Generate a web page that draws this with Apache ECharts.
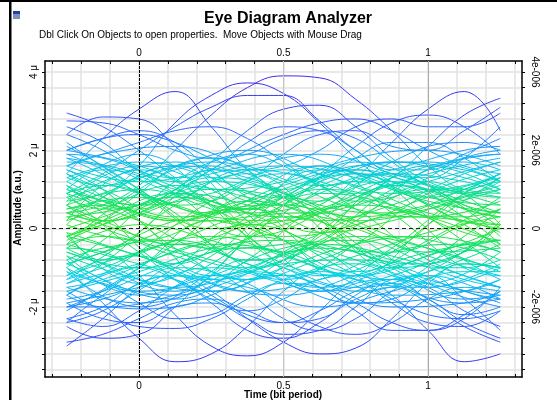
<!DOCTYPE html>
<html><head><meta charset="utf-8">
<script src="https://cdn.jsdelivr.net/npm/echarts@6/dist/echarts.min.js"></script>
<style>html,body{margin:0;padding:0;background:#fff}#c{width:557px;height:400px}</style>
</head><body><div id="c"></div>
<script>
// time grids (bit periods)
const timesFine = [-0.25,-0.125,0,0.125,0.25,0.375,0.5,0.625,0.75,0.875,1,1.125,1.25];
const timesA = [-0.25,0,0.25,0.5,0.75,1,1.25];
const timesB = [-0.25,-0.125,0.125,0.375,0.625,0.875,1.125,1.25];

// amplitude traces in micro a.u.
const outerTraces = [
  [0.4,0.6,1.1,2.0,2.9,3.6,3.9,3.85,3.3,2.5,1.6,1.0,0.9],
  [1.4,2.3,3.05,3.5,2.6,1.5,0.8,0.5,0.7,1.1,1.0,0.5,0.3],
  [0.4,0.8,1.6,2.7,3.4,3.72,3.45,2.7,1.8,1.1,0.8,1.0,1.4],
  [0.6,0.2,0.4,1.0,1.5,1.4,0.9,0.7,1.3,2.2,3.05,3.5,2.5],
  [1.2,0.8,0.6,1.0,1.7,2.5,3.05,3.15,2.6,1.8,1.2,1.0,1.3],
  [0.9,1.4,2.0,2.6,3.1,3.4,3.4,2.75,2.0,1.5,1.5,1.9,2.3],
  [-0.2,0.2,0.9,1.5,1.6,1.2,1.0,1.4,2.1,2.7,2.9,2.6,1.9],
  [2.4,2.85,2.8,2.1,1.3,0.7,0.6,0.9,1.3,1.4,1.1,0.6,0.4],
  [2.95,2.6,2.0,1.3,0.7,0.5,0.8,1.3,1.5,1.2,0.6,0.2,0.1],
  [2.75,2.7,2.4,2.0,1.8,1.9,2.3,2.5,2.3,1.7,1.1,0.9,1.2],
  [0.8,0.5,0.6,1.2,1.7,1.9,1.6,1.1,0.9,1.3,2.1,2.9,3.33],
  [1.9,1.5,0.9,0.6,0.7,1.2,1.9,2.4,2.5,2.1,2.0,2.5,3.1],
  [2.0,2.3,2.4,2.2,1.8,1.5,1.6,2.0,2.6,2.8,2.6,2.6,2.95],
  [1.1,0.6,0.5,0.9,1.5,2.0,2.4,2.7,2.8,2.5,2.0,1.6,1.4],
  [2.0,2.3,2.5,2.2,1.5,0.9,0.8,1.2,1.8,2.2,2.2,1.8,1.2],
  [1.6,1.9,2.2,2.5,2.6,2.3,1.7,1.1,0.7,0.8,1.3,1.8,2.0],
  [2.6,2.2,1.5,1.2,1.5,2.2,2.6,2.5,2.0,1.4,1.3,1.8,2.6],
  [-1.0,-1.9,-2.8,-3.4,-3.2,-2.5,-1.6,-1.0,-0.9,-1.2,-1.5,-1.3,-0.9],
  [-0.5,-0.6,-1.2,-2.2,-3.0,-3.25,-2.9,-2.1,-1.4,-1.3,-1.8,-2.2,-2.0],
  [-2.3,-2.0,-1.4,-1.2,-1.6,-2.3,-2.9,-3.2,-3.05,-2.3,-1.4,-0.9,-1.0],
  [-1.7,-1.2,-1.0,-1.3,-1.8,-2.1,-1.8,-1.3,-1.2,-1.7,-2.6,-3.4,-3.2],
  [-2.5,-2.8,-2.7,-2.0,-1.2,-0.8,-1.0,-1.5,-1.9,-1.8,-1.3,-0.9,-1.0],
  [-3.0,-2.3,-1.5,-1.0,-1.1,-1.6,-2.3,-2.6,-2.3,-1.6,-1.2,-1.4,-1.8],
  [-1.6,-2.1,-2.5,-2.55,-2.3,-1.8,-1.3,-1.1,-1.3,-1.9,-2.4,-2.5,-2.1],
  [-2.0,-2.0,-2.05,-2.0,-1.7,-1.3,-1.2,-1.5,-2.1,-2.6,-2.6,-2.2,-1.6],
  [-0.9,-1.3,-1.9,-2.3,-2.2,-1.7,-1.4,-1.5,-1.9,-2.4,-2.6,-2.3,-1.5],
  [-1.2,-0.8,-0.7,-1.1,-1.7,-2.2,-2.4,-2.1,-1.6,-1.4,-1.8,-2.4,-2.8],
  [-1.9,-2.3,-2.4,-2.0,-1.9,-2.3,-2.7,-2.6,-2.0,-1.3,-1.2,-1.8,-2.6],
  [-2.3,-2.5,-2.1,-1.5,-1.2,-1.4,-2.0,-2.5,-2.7,-2.4,-1.8,-1.5,-1.6],
  [-2.4,-1.7,-1.2,-1.3,-1.9,-2.6,-2.8,-2.4,-1.7,-1.3,-1.5,-2.1,-2.5],
  [-2.9,-2.7,-2.3,-1.9,-1.8,-2.1,-2.4,-2.3,-1.8,-1.5,-1.9,-2.5,-2.9]
];
const innerTracesA = [
  [1.5,0.9,0.4,0.8,1.4,1.1,0.6],[0.8,1.3,1.7,1.2,0.5,0.3,0.7],[0.3,0.6,1.2,1.6,1.3,0.7,0.4],
  [1.8,1.4,0.7,0.3,0.6,1.2,1.7],[1.1,0.4,0.2,0.9,1.6,1.7,1.2],[0.6,1.0,0.5,-0.2,0.1,0.8,1.3],
  [-0.2,0.4,1.0,0.8,0.3,0.6,1.1],[1.3,1.7,1.3,0.6,0.2,0.5,1.0],[0.1,-0.3,0.3,1.1,1.5,1.0,0.4],
  [1.0,0.6,0.9,1.5,1.1,0.4,0.0],[-0.4,-0.9,-1.3,-0.8,-0.2,-0.5,-1.1],[-1.2,-0.6,-0.2,-0.7,-1.3,-1.5,-1.0],
  [-0.7,-1.3,-1.6,-1.0,-0.4,-0.2,-0.6],[-1.6,-1.1,-0.5,-0.3,-0.8,-1.4,-1.7],[-0.2,-0.7,-1.4,-1.7,-1.2,-0.6,-0.3],
  [-1.0,-1.6,-1.2,-0.5,-0.3,-0.9,-1.5],[-0.5,0.1,-0.3,-1.0,-1.5,-1.1,-0.4],[-1.4,-0.9,-0.4,-0.6,-1.2,-0.7,0.0],
  [0.4,-0.2,-0.8,-1.2,-0.7,-0.1,0.3],[-0.9,-0.3,0.4,0.6,0.0,-0.7,-1.2],[2.0,1.6,1.0,1.2,1.8,2.0,1.6],
  [-1.9,-1.5,-1.0,-1.4,-1.9,-1.8,-1.3],[0.9,0.2,-0.5,-0.4,0.3,1.0,0.8],[-0.3,0.5,1.2,0.9,0.1,-0.6,-0.5],
  [1.6,1.2,1.5,1.9,1.4,0.8,0.6],[-1.5,-1.9,-1.5,-0.9,-0.8,-1.3,-1.9],[0.5,0.8,0.3,0.2,0.8,1.4,1.8],
  [-0.6,-1.0,-0.6,0.1,0.6,0.3,-0.4],
  [1.4,0.2,-1.2,-0.6,0.8,1.2,0.1],[-1.3,-0.1,1.3,0.9,-0.5,-1.4,-0.6],[0.2,1.5,0.6,-0.9,-1.2,0.1,1.3],
  [-0.1,-1.4,-0.7,0.8,1.4,0.3,-1.0],[1.8,0.9,-0.4,-1.3,-0.4,0.9,1.5],[-1.7,-0.6,0.7,1.4,0.5,-0.8,-1.5],
  [0.7,1.6,1.0,-0.3,-1.1,-0.3,0.8],[-0.8,-1.7,-0.9,0.4,1.2,0.6,-0.5],[2.2,1.0,0.0,0.6,1.7,1.1,-0.2],
  [-2.1,-1.0,0.2,-0.3,-1.6,-1.1,0.1],[0.9,-0.6,-1.6,-0.8,0.6,1.6,1.0],[-0.4,1.0,1.8,0.8,-0.6,-0.9,0.2],
  [1.0,1.9,0.8,-0.6,0.2,1.5,1.9],[-1.1,-2.0,-1.1,0.3,-0.2,-1.4,-2.0]
];
const innerTracesB = [
  [1.2,1.5,1.0,0.4,0.7,1.4,1.2,0.9],[0.4,0.2,0.7,1.5,1.2,0.5,0.3,0.5],[1.7,1.6,0.9,0.5,1.1,1.7,1.5,1.2],
  [0.7,0.9,1.6,1.3,0.6,0.4,1.0,1.4],[0.2,0.5,1.1,0.8,0.2,0.6,1.4,1.7],[1.4,1.0,0.3,0.6,1.5,1.2,0.5,0.3],
  [0.9,1.1,0.6,0.1,0.5,1.3,1.8,1.9],[1.9,1.8,1.3,1.6,1.9,1.4,0.9,0.8],[0.0,0.3,0.9,0.6,-0.1,0.2,0.8,1.0],
  [1.0,0.7,0.2,0.9,1.6,1.0,0.3,0.1],[-0.6,-0.9,-1.5,-1.1,-0.4,-0.7,-1.3,-1.5],[-1.3,-1.0,-0.4,-0.9,-1.6,-1.2,-0.5,-0.3],
  [-0.1,-0.4,-1.0,-1.6,-1.3,-0.6,-0.4,-0.6],[-1.8,-1.6,-0.9,-0.5,-1.0,-1.7,-1.6,-1.3],[-0.8,-0.5,-0.3,-0.9,-1.5,-1.0,-0.4,-0.3],
  [-1.1,-1.4,-1.7,-1.0,-0.5,-0.9,-1.6,-1.8],[-0.4,-0.2,-0.7,-1.3,-0.8,-0.2,-0.5,-0.8],[-1.5,-1.3,-0.6,-0.2,-0.6,-1.4,-1.9,-1.8],
  [0.3,0.0,-0.6,-1.0,-0.4,0.3,0.2,-0.1],[-0.9,-0.6,0.2,0.5,-0.1,-0.8,-1.0,-0.8],[1.6,1.9,2.1,1.6,1.1,1.5,2.0,2.1],
  [-2.0,-1.8,-1.2,-1.5,-2.0,-1.6,-1.1,-1.1],[0.6,0.2,-0.4,0.1,0.9,0.6,-0.1,-0.3],[-0.2,0.2,0.8,0.4,-0.4,-0.6,0.1,0.5],
  [1.3,1.1,1.6,2.0,1.4,0.9,1.1,1.4],[-1.7,-2.0,-1.7,-1.1,-1.4,-2.0,-1.9,-1.6],[0.5,0.6,0.2,0.7,1.3,1.7,1.3,1.0],
  [-0.5,-0.8,-0.3,0.3,0.4,-0.2,-0.8,-1.0],
  [1.5,1.0,-0.5,-1.3,-0.2,1.1,0.6,0.0],[-1.4,-0.9,0.6,1.4,0.3,-1.0,-0.6,0.1],[0.1,0.8,1.6,0.2,-1.2,-0.6,0.9,1.4],
  [-0.2,-0.9,-1.6,-0.3,1.0,0.6,-0.8,-1.3],[2.1,1.6,0.4,-0.8,-0.3,1.0,1.7,1.5],[-2.0,-1.6,-0.4,0.7,0.2,-1.0,-1.8,-1.7],
  [0.6,1.2,1.7,0.8,-0.7,-1.3,-0.2,0.5],[-0.7,-1.3,-1.8,-0.8,0.6,1.2,0.3,-0.4],[1.1,0.4,-0.9,0.3,1.6,0.4,-1.0,-1.2],
  [-1.0,-0.3,0.9,-0.2,-1.6,-0.5,0.9,1.2],[2.4,2.0,0.9,-0.2,0.4,1.7,2.2,2.0],[-2.4,-2.1,-1.0,0.1,-0.5,-1.8,-2.3,-2.1]
];

// axis ticks and labels
const xTickValues = [-0.3,-0.2,-0.1,0,0.1,0.2,0.3,0.4,0.5,0.6,0.7,0.8,0.9,1,1.1,1.2,1.3];
const xLabelValues = [0,0.5,1];
const yTickValues = [-3.6,-3.2,-2.8,-2.4,-2,-1.6,-1.2,-0.8,-0.4,0,0.4,0.8,1.2,1.6,2,2.4,2.8,3.2,3.6,4];
const yLabelValues = [-2,0,2,4];
const yLeftLabels = ['-2 μ','0','2 μ','4 μ'];
const yRightLabels = ['-2e-006','0','2e-006','4e-006'];

const FONT = '"Liberation Sans", Arial, sans-serif';
const chart = echarts.init(document.getElementById('c'), null, {renderer:'canvas'});

const series = [];
function addTrace(times, vals){
  series.push({
    type:'line', smooth:0.45, symbol:'none', silent:true, animation:false,
    lineStyle:{width:1},
    data: times.map((t,i)=>[t, vals[i]])
  });
}
innerTracesA.forEach(v=>addTrace(timesA, v));
innerTracesB.forEach(v=>addTrace(timesB, v));
outerTraces.forEach(v=>addTrace(timesFine, v));
const traceIdx = series.map((s,i)=>i);

series.push({
  type:'line', data:[], silent:true, animation:false, symbol:'none', z:10,
  markLine:{
    silent:true, symbol:'none', animation:false, label:{show:false},
    data:[
      {xAxis:0.5, lineStyle:{color:'#c4c4c4', type:'solid', width:1}},
      {xAxis:1, lineStyle:{color:'#a8a8a8', type:'solid', width:1}},
      {xAxis:0, lineStyle:{color:'#000', type:[3,1], width:1}},
      {yAxis:0, lineStyle:{color:'#222', type:[4,3], width:1}}
    ]
  }
});

const axisCommon = {
  type:'value', min:-0.325, max:1.325,
  axisLine:{show:true, onZero:false, lineStyle:{color:'#000', width:1.5}},
  axisTick:{show:true, customValues:xTickValues, length:3, inside:true, lineStyle:{color:'#000'}},
  axisLabel:{show:true, customValues:xLabelValues, color:'#000', fontSize:10, fontFamily:FONT, margin:4,
    formatter:v=>String(v)},
};
const yCommon = {
  type:'value', min:-3.79, max:4.28,
  axisLine:{show:true, onZero:false, lineStyle:{color:'#000', width:1.5}},
  axisTick:{show:true, customValues:yTickValues, length:3, inside:false, lineStyle:{color:'#000'}},
};

chart.setOption({
  animation:false,
  backgroundColor:'#fff',
  grid:{left:45, right:35, top:61, bottom:23, containLabel:false},
  xAxis:[
    Object.assign({}, axisCommon, {position:'bottom',
      splitLine:{show:true, lineStyle:{color:'#e2e2e2', width:1.5}}}),
    Object.assign({}, axisCommon, {position:'top', splitLine:{show:false},
      axisLabel:Object.assign({}, axisCommon.axisLabel, {margin:3})})
  ],
  yAxis:[
    Object.assign({}, yCommon, {position:'left',
      splitLine:{show:true, lineStyle:{color:'#e2e2e2', width:1.5}},
      axisLabel:{show:true, customValues:yLabelValues, rotate:90, color:'#000', fontSize:10, fontFamily:FONT, margin:6,
        formatter:v=>yLeftLabels[yLabelValues.indexOf(v)]}}),
    Object.assign({}, yCommon, {position:'right', splitLine:{show:false},
      axisLabel:{show:true, customValues:yLabelValues, rotate:-90, color:'#000', fontSize:10, fontFamily:FONT, margin:8,
        formatter:v=>yRightLabels[yLabelValues.indexOf(v)]}})
  ],
  visualMap:{
    type:'continuous', show:false, dimension:1, seriesIndex:traceIdx,
    min:-4.2, max:4.2,
    inRange:{color:['#3b22e6','#3a2cf0','#3440f5','#2a60ff','#1496f8','#00d0e8','#00e27a','#30e430',
                    '#14e25a','#00d8c8','#10b0f4','#2a6cff','#3448f5','#3a30f0','#3b22e6']}
  },
  graphic:[
    {type:'rect', shape:{x:0,y:0,width:557,height:2}, style:{fill:'#000'}, z:100},
    {type:'rect', shape:{x:9,y:0,width:2.5,height:400}, style:{fill:'#000'}, z:100},
    {type:'rect', shape:{x:13,y:11,width:7,height:3}, style:{fill:'#2040b0'}, z:100},
    {type:'rect', shape:{x:13,y:14,width:7,height:5}, style:{fill:'#8090b8'}, z:100},
    {type:'text', x:288, y:19, style:{text:'Eye Diagram Analyzer', font:'bold 16px '+FONT, fill:'#000', align:'center', verticalAlign:'middle'}, z:100},
    {type:'text', x:39, y:35, style:{text:'Dbl Click On Objects to open properties.  Move Objects with Mouse Drag', font:'10px '+FONT, fill:'#000', align:'left', verticalAlign:'middle'}, z:100},
    {type:'text', x:283, y:395, style:{text:'Time (bit period)', font:'bold 10px '+FONT, fill:'#000', align:'center', verticalAlign:'middle'}, z:100},
    {type:'text', x:18, y:208, rotation:Math.PI/2, style:{text:'Amplitude (a.u.)', font:'bold 10px '+FONT, fill:'#000', align:'center', verticalAlign:'middle'}, z:100}
  ],
  series: series
});
</script></body></html>
